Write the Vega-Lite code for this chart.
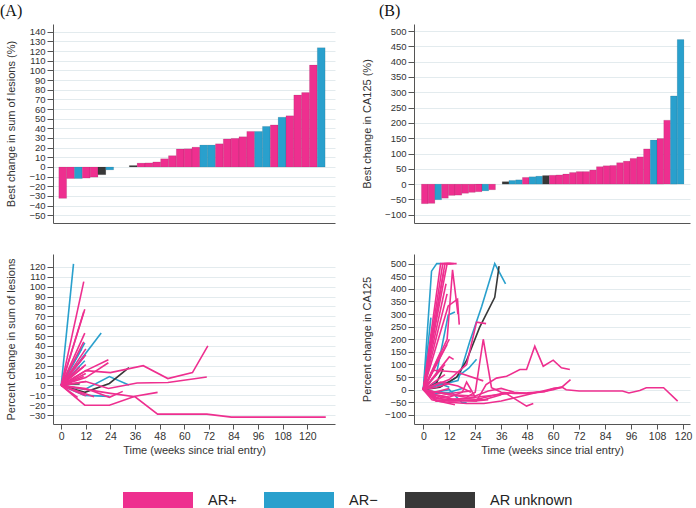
{
  "$schema": "https://vega.github.io/schema/vega-lite/v6.json",
  "padding": {"left": 0, "top": 3, "right": 2, "bottom": 0},
  "config": {
    "font": "Liberation Sans",
    "view": {"stroke": null},
    "axis": {"domainColor": "#555555", "tickColor": "#555555", "labelColor": "#333333", "titleColor": "#333333", "titleFontWeight": "normal", "labelFont": "Liberation Sans", "titleFont": "Liberation Sans", "gridColor": "#e3ebee", "gridWidth": 1, "domainWidth": 1, "tickWidth": 1}
  },
  "resolve": {"scale": {"color": "independent"}, "legend": {"color": "independent"}},
  "datasets": {
    "barsA": [
      {"rank": 1, "ar": "AR+", "v": -32.5}, {"rank": 2, "ar": "AR+", "v": -12}, {"rank": 3, "ar": "AR−", "v": -12},
      {"rank": 4, "ar": "AR+", "v": -11.5}, {"rank": 5, "ar": "AR+", "v": -10.5}, {"rank": 6, "ar": "AR unknown", "v": -8},
      {"rank": 7, "ar": "AR−", "v": -3}, {"rank": 10, "ar": "AR unknown", "v": 1.5}, {"rank": 11, "ar": "AR+", "v": 4},
      {"rank": 12, "ar": "AR+", "v": 4.2}, {"rank": 13, "ar": "AR+", "v": 5.2}, {"rank": 14, "ar": "AR+", "v": 8.5},
      {"rank": 15, "ar": "AR+", "v": 11.7}, {"rank": 16, "ar": "AR+", "v": 18.6}, {"rank": 17, "ar": "AR+", "v": 18.8},
      {"rank": 18, "ar": "AR+", "v": 20.5}, {"rank": 19, "ar": "AR−", "v": 22.7}, {"rank": 20, "ar": "AR−", "v": 22.7},
      {"rank": 21, "ar": "AR+", "v": 24}, {"rank": 22, "ar": "AR+", "v": 29}, {"rank": 23, "ar": "AR+", "v": 29.6},
      {"rank": 24, "ar": "AR+", "v": 31.3}, {"rank": 25, "ar": "AR+", "v": 36.8}, {"rank": 26, "ar": "AR−", "v": 36.8},
      {"rank": 27, "ar": "AR−", "v": 42}, {"rank": 28, "ar": "AR+", "v": 43.5}, {"rank": 29, "ar": "AR−", "v": 51.5},
      {"rank": 30, "ar": "AR+", "v": 53}, {"rank": 31, "ar": "AR+", "v": 74.5}, {"rank": 32, "ar": "AR+", "v": 77},
      {"rank": 33, "ar": "AR+", "v": 105.5}, {"rank": 34, "ar": "AR−", "v": 123.5}
    ],
    "barsB": [
      {"rank": 1, "ar": "AR+", "v": -64}, {"rank": 2, "ar": "AR+", "v": -63}, {"rank": 3, "ar": "AR−", "v": -51},
      {"rank": 4, "ar": "AR+", "v": -46}, {"rank": 5, "ar": "AR+", "v": -37}, {"rank": 6, "ar": "AR+", "v": -36},
      {"rank": 7, "ar": "AR+", "v": -30}, {"rank": 8, "ar": "AR+", "v": -27}, {"rank": 9, "ar": "AR+", "v": -25},
      {"rank": 10, "ar": "AR−", "v": -22}, {"rank": 11, "ar": "AR+", "v": -18.5}, {"rank": 13, "ar": "AR unknown", "v": 8},
      {"rank": 14, "ar": "AR−", "v": 12}, {"rank": 15, "ar": "AR−", "v": 14}, {"rank": 16, "ar": "AR+", "v": 22},
      {"rank": 17, "ar": "AR−", "v": 24}, {"rank": 18, "ar": "AR−", "v": 26}, {"rank": 19, "ar": "AR unknown", "v": 28},
      {"rank": 20, "ar": "AR+", "v": 29}, {"rank": 21, "ar": "AR+", "v": 30}, {"rank": 22, "ar": "AR+", "v": 33},
      {"rank": 23, "ar": "AR+", "v": 38}, {"rank": 24, "ar": "AR+", "v": 41}, {"rank": 25, "ar": "AR+", "v": 41},
      {"rank": 26, "ar": "AR+", "v": 46}, {"rank": 27, "ar": "AR+", "v": 57}, {"rank": 28, "ar": "AR+", "v": 60},
      {"rank": 29, "ar": "AR+", "v": 61}, {"rank": 30, "ar": "AR+", "v": 70}, {"rank": 31, "ar": "AR+", "v": 75},
      {"rank": 32, "ar": "AR+", "v": 84}, {"rank": 33, "ar": "AR+", "v": 89}, {"rank": 34, "ar": "AR+", "v": 115},
      {"rank": 35, "ar": "AR−", "v": 144}, {"rank": 36, "ar": "AR+", "v": 149}, {"rank": 37, "ar": "AR+", "v": 209},
      {"rank": 38, "ar": "AR−", "v": 288}, {"rank": 39, "ar": "AR−", "v": 472}
    ],
    "linesA": [
      {"id": "b1", "ar": "AR−", "w": 0, "v": 0}, {"id": "b1", "ar": "AR−", "w": 6, "v": 123},
      {"id": "b2", "ar": "AR−", "w": 0, "v": 0}, {"id": "b2", "ar": "AR−", "w": 19.5, "v": 53},
      {"id": "b3", "ar": "AR−", "w": 0, "v": 0}, {"id": "b3", "ar": "AR−", "w": 11.5, "v": 43},
      {"id": "b4", "ar": "AR−", "w": 0, "v": 0}, {"id": "b4", "ar": "AR−", "w": 10, "v": 37},
      {"id": "b5", "ar": "AR−", "w": 0, "v": 0}, {"id": "b5", "ar": "AR−", "w": 11.5, "v": 25},
      {"id": "b6", "ar": "AR−", "w": 0, "v": 0}, {"id": "b6", "ar": "AR−", "w": 8, "v": 22},
      {"id": "b7", "ar": "AR−", "w": 0, "v": 0}, {"id": "b7", "ar": "AR−", "w": 11.5, "v": -10}, {"id": "b7", "ar": "AR−", "w": 23.5, "v": -11},
      {"id": "b8", "ar": "AR−", "w": 0, "v": 0}, {"id": "b8", "ar": "AR−", "w": 11.5, "v": -4}, {"id": "b8", "ar": "AR−", "w": 23.5, "v": 9}, {"id": "b8", "ar": "AR−", "w": 33, "v": 0.5},
      {"id": "d1", "ar": "AR unknown", "w": 0, "v": 0}, {"id": "d1", "ar": "AR unknown", "w": 5.5, "v": 1.5}, {"id": "d1", "ar": "AR unknown", "w": 9, "v": 1.5},
      {"id": "d2", "ar": "AR unknown", "w": 0, "v": 0}, {"id": "d2", "ar": "AR unknown", "w": 11.5, "v": -7}, {"id": "d2", "ar": "AR unknown", "w": 23.5, "v": 2}, {"id": "d2", "ar": "AR unknown", "w": 33, "v": 18},
      {"id": "p1", "ar": "AR+", "w": 0, "v": 0}, {"id": "p1", "ar": "AR+", "w": 12, "v": -4}, {"id": "p1", "ar": "AR+", "w": 24, "v": -8}, {"id": "p1", "ar": "AR+", "w": 36, "v": -11.5}, {"id": "p1", "ar": "AR+", "w": 47, "v": -29}, {"id": "p1", "ar": "AR+", "w": 71, "v": -29}, {"id": "p1", "ar": "AR+", "w": 83, "v": -32}, {"id": "p1", "ar": "AR+", "w": 129, "v": -32},
      {"id": "p2", "ar": "AR+", "w": 0, "v": 0}, {"id": "p2", "ar": "AR+", "w": 11.5, "v": -20}, {"id": "p2", "ar": "AR+", "w": 23.5, "v": -20}, {"id": "p2", "ar": "AR+", "w": 36, "v": -11}, {"id": "p2", "ar": "AR+", "w": 47, "v": -7},
      {"id": "p3", "ar": "AR+", "w": 0, "v": 0}, {"id": "p3", "ar": "AR+", "w": 16, "v": -11.5},
      {"id": "p4", "ar": "AR+", "w": 0, "v": 0}, {"id": "p4", "ar": "AR+", "w": 12, "v": -3}, {"id": "p4", "ar": "AR+", "w": 23.5, "v": -12}, {"id": "p4", "ar": "AR+", "w": 30, "v": -6},
      {"id": "p5", "ar": "AR+", "w": 0, "v": 0}, {"id": "p5", "ar": "AR+", "w": 12, "v": 15}, {"id": "p5", "ar": "AR+", "w": 24, "v": 13}, {"id": "p5", "ar": "AR+", "w": 40, "v": 20}, {"id": "p5", "ar": "AR+", "w": 52, "v": 7}, {"id": "p5", "ar": "AR+", "w": 64, "v": 13}, {"id": "p5", "ar": "AR+", "w": 71.5, "v": 40},
      {"id": "p6", "ar": "AR+", "w": 0, "v": 0}, {"id": "p6", "ar": "AR+", "w": 12, "v": 4}, {"id": "p6", "ar": "AR+", "w": 23, "v": -3}, {"id": "p6", "ar": "AR+", "w": 37, "v": 2.5}, {"id": "p6", "ar": "AR+", "w": 52, "v": 3}, {"id": "p6", "ar": "AR+", "w": 71, "v": 8.5},
      {"id": "p7", "ar": "AR+", "w": 0, "v": 0}, {"id": "p7", "ar": "AR+", "w": 12, "v": 15}, {"id": "p7", "ar": "AR+", "w": 23, "v": 26},
      {"id": "p8", "ar": "AR+", "w": 0, "v": 0}, {"id": "p8", "ar": "AR+", "w": 12, "v": 8}, {"id": "p8", "ar": "AR+", "w": 23, "v": 23},
      {"id": "p9", "ar": "AR+", "w": 0, "v": 0}, {"id": "p9", "ar": "AR+", "w": 12, "v": 4},
      {"id": "p10", "ar": "AR+", "w": 0, "v": 0}, {"id": "p10", "ar": "AR+", "w": 6, "v": 5},
      {"id": "p11", "ar": "AR+", "w": 0, "v": 0}, {"id": "p11", "ar": "AR+", "w": 11, "v": 9},
      {"id": "p12", "ar": "AR+", "w": 0, "v": 0}, {"id": "p12", "ar": "AR+", "w": 12, "v": 12},
      {"id": "p13", "ar": "AR+", "w": 0, "v": 0}, {"id": "p13", "ar": "AR+", "w": 9, "v": 18.6},
      {"id": "p14", "ar": "AR+", "w": 0, "v": 0}, {"id": "p14", "ar": "AR+", "w": 11, "v": 19},
      {"id": "p15", "ar": "AR+", "w": 0, "v": 0}, {"id": "p15", "ar": "AR+", "w": 12, "v": 21},
      {"id": "p16", "ar": "AR+", "w": 0, "v": 0}, {"id": "p16", "ar": "AR+", "w": 11, "v": 29},
      {"id": "p17", "ar": "AR+", "w": 0, "v": 0}, {"id": "p17", "ar": "AR+", "w": 12, "v": 31},
      {"id": "p18", "ar": "AR+", "w": 0, "v": 0}, {"id": "p18", "ar": "AR+", "w": 12, "v": 37},
      {"id": "p19", "ar": "AR+", "w": 0, "v": 0}, {"id": "p19", "ar": "AR+", "w": 11, "v": 44},
      {"id": "p20", "ar": "AR+", "w": 0, "v": 0}, {"id": "p20", "ar": "AR+", "w": 11.5, "v": 53},
      {"id": "p21", "ar": "AR+", "w": 0, "v": 0}, {"id": "p21", "ar": "AR+", "w": 11, "v": 74.5},
      {"id": "p22", "ar": "AR+", "w": 0, "v": 0}, {"id": "p22", "ar": "AR+", "w": 11.5, "v": 77},
      {"id": "p23", "ar": "AR+", "w": 0, "v": 0}, {"id": "p23", "ar": "AR+", "w": 11, "v": 105},
      {"id": "p24", "ar": "AR+", "w": 0, "v": 0}, {"id": "p24", "ar": "AR+", "w": 12, "v": -10.5},
      {"id": "p25", "ar": "AR+", "w": 0, "v": 0}, {"id": "p25", "ar": "AR+", "w": 8, "v": -12}
    ],
    "linesB": [
      {"id": "b1", "ar": "AR−", "w": 0, "v": 0}, {"id": "b1", "ar": "AR−", "w": 3.8, "v": 470}, {"id": "b1", "ar": "AR−", "w": 6.2, "v": 500}, {"id": "b1", "ar": "AR−", "w": 8.5, "v": 500},
      {"id": "b2", "ar": "AR−", "w": 0, "v": 0}, {"id": "b2", "ar": "AR−", "w": 3.5, "v": 286},
      {"id": "b3", "ar": "AR−", "w": 0, "v": 0}, {"id": "b3", "ar": "AR−", "w": 6, "v": 60}, {"id": "b3", "ar": "AR−", "w": 11.5, "v": 296}, {"id": "b3", "ar": "AR−", "w": 14.6, "v": 308},
      {"id": "b4", "ar": "AR−", "w": 0, "v": 0}, {"id": "b4", "ar": "AR−", "w": 8, "v": 20}, {"id": "b4", "ar": "AR−", "w": 16, "v": 36}, {"id": "b4", "ar": "AR−", "w": 21.5, "v": 192}, {"id": "b4", "ar": "AR−", "w": 27, "v": 331}, {"id": "b4", "ar": "AR−", "w": 33, "v": 500}, {"id": "b4", "ar": "AR−", "w": 38, "v": 420},
      {"id": "b5", "ar": "AR−", "w": 0, "v": 0}, {"id": "b5", "ar": "AR−", "w": 6, "v": 20}, {"id": "b5", "ar": "AR−", "w": 12, "v": 30}, {"id": "b5", "ar": "AR−", "w": 17, "v": 60}, {"id": "b5", "ar": "AR−", "w": 21, "v": 85}, {"id": "b5", "ar": "AR−", "w": 24.6, "v": 121},
      {"id": "b6", "ar": "AR−", "w": 0, "v": 0}, {"id": "b6", "ar": "AR−", "w": 6, "v": -10}, {"id": "b6", "ar": "AR−", "w": 12, "v": 0}, {"id": "b6", "ar": "AR−", "w": 17.7, "v": -50}, {"id": "b6", "ar": "AR−", "w": 20, "v": -52},
      {"id": "b7", "ar": "AR−", "w": 0, "v": 0}, {"id": "b7", "ar": "AR−", "w": 6, "v": -15}, {"id": "b7", "ar": "AR−", "w": 12, "v": -10}, {"id": "b7", "ar": "AR−", "w": 18, "v": 5},
      {"id": "b8", "ar": "AR−", "w": 0, "v": 0}, {"id": "b8", "ar": "AR−", "w": 6, "v": 30}, {"id": "b8", "ar": "AR−", "w": 12, "v": 10},
      {"id": "d1", "ar": "AR unknown", "w": 0, "v": 0}, {"id": "d1", "ar": "AR unknown", "w": 6, "v": 25}, {"id": "d1", "ar": "AR unknown", "w": 9.2, "v": 83},
      {"id": "d2", "ar": "AR unknown", "w": 0, "v": 0}, {"id": "d2", "ar": "AR unknown", "w": 7.7, "v": 10}, {"id": "d2", "ar": "AR unknown", "w": 15.4, "v": 50}, {"id": "d2", "ar": "AR unknown", "w": 20, "v": 116}, {"id": "d2", "ar": "AR unknown", "w": 26, "v": 247}, {"id": "d2", "ar": "AR unknown", "w": 33, "v": 366}, {"id": "d2", "ar": "AR unknown", "w": 35, "v": 490},
      {"id": "p1", "ar": "AR+", "w": 0, "v": 0}, {"id": "p1", "ar": "AR+", "w": 8, "v": 500}, {"id": "p1", "ar": "AR+", "w": 14, "v": 500},
      {"id": "p2", "ar": "AR+", "w": 0, "v": 0}, {"id": "p2", "ar": "AR+", "w": 9, "v": 500}, {"id": "p2", "ar": "AR+", "w": 15.4, "v": 500},
      {"id": "p3", "ar": "AR+", "w": 0, "v": 0}, {"id": "p3", "ar": "AR+", "w": 10, "v": 500}, {"id": "p3", "ar": "AR+", "w": 13, "v": 500},
      {"id": "p4", "ar": "AR+", "w": 0, "v": 0}, {"id": "p4", "ar": "AR+", "w": 11, "v": 500}, {"id": "p4", "ar": "AR+", "w": 12.5, "v": 500},
      {"id": "p5", "ar": "AR+", "w": 0, "v": 0}, {"id": "p5", "ar": "AR+", "w": 9.5, "v": 470},
      {"id": "p6", "ar": "AR+", "w": 0, "v": 0}, {"id": "p6", "ar": "AR+", "w": 10.5, "v": 420},
      {"id": "p7", "ar": "AR+", "w": 0, "v": 0}, {"id": "p7", "ar": "AR+", "w": 11, "v": 380},
      {"id": "p8", "ar": "AR+", "w": 0, "v": 0}, {"id": "p8", "ar": "AR+", "w": 11.5, "v": 332}, {"id": "p8", "ar": "AR+", "w": 15.8, "v": 359}, {"id": "p8", "ar": "AR+", "w": 16.6, "v": 258},
      {"id": "p9", "ar": "AR+", "w": 0, "v": 0}, {"id": "p9", "ar": "AR+", "w": 11, "v": 200}, {"id": "p9", "ar": "AR+", "w": 13.5, "v": 475}, {"id": "p9", "ar": "AR+", "w": 16, "v": 300},
      {"id": "p10", "ar": "AR+", "w": 0, "v": 0}, {"id": "p10", "ar": "AR+", "w": 12, "v": 200},
      {"id": "p11", "ar": "AR+", "w": 0, "v": 0}, {"id": "p11", "ar": "AR+", "w": 11, "v": 180},
      {"id": "p12", "ar": "AR+", "w": 0, "v": 0}, {"id": "p12", "ar": "AR+", "w": 12, "v": 130}, {"id": "p12", "ar": "AR+", "w": 14, "v": 120},
      {"id": "p13", "ar": "AR+", "w": 0, "v": 0}, {"id": "p13", "ar": "AR+", "w": 8, "v": 150},
      {"id": "p14", "ar": "AR+", "w": 0, "v": 0}, {"id": "p14", "ar": "AR+", "w": 10, "v": 100},
      {"id": "p15", "ar": "AR+", "w": 0, "v": 0}, {"id": "p15", "ar": "AR+", "w": 4.6, "v": 77}, {"id": "p15", "ar": "AR+", "w": 15.4, "v": 70}, {"id": "p15", "ar": "AR+", "w": 27.7, "v": 35},
      {"id": "p16", "ar": "AR+", "w": 0, "v": 0}, {"id": "p16", "ar": "AR+", "w": 12, "v": 40}, {"id": "p16", "ar": "AR+", "w": 20, "v": 100}, {"id": "p16", "ar": "AR+", "w": 24.6, "v": 268}, {"id": "p16", "ar": "AR+", "w": 29, "v": 262},
      {"id": "p17", "ar": "AR+", "w": 0, "v": 0}, {"id": "p17", "ar": "AR+", "w": 12, "v": -20}, {"id": "p17", "ar": "AR+", "w": 20, "v": -30}, {"id": "p17", "ar": "AR+", "w": 24, "v": -10}, {"id": "p17", "ar": "AR+", "w": 27.7, "v": 200}, {"id": "p17", "ar": "AR+", "w": 31.5, "v": 8}, {"id": "p17", "ar": "AR+", "w": 36, "v": -10}, {"id": "p17", "ar": "AR+", "w": 42, "v": -15}, {"id": "p17", "ar": "AR+", "w": 48, "v": -15}, {"id": "p17", "ar": "AR+", "w": 54, "v": -8},
      {"id": "p18", "ar": "AR+", "w": 0, "v": 0}, {"id": "p18", "ar": "AR+", "w": 6, "v": -40}, {"id": "p18", "ar": "AR+", "w": 12, "v": -45}, {"id": "p18", "ar": "AR+", "w": 24.6, "v": -45}, {"id": "p18", "ar": "AR+", "w": 29, "v": 20}, {"id": "p18", "ar": "AR+", "w": 33.8, "v": 46}, {"id": "p18", "ar": "AR+", "w": 38.5, "v": 53}, {"id": "p18", "ar": "AR+", "w": 44.6, "v": 80}, {"id": "p18", "ar": "AR+", "w": 47.7, "v": 80}, {"id": "p18", "ar": "AR+", "w": 51.5, "v": 172}, {"id": "p18", "ar": "AR+", "w": 55.4, "v": 93}, {"id": "p18", "ar": "AR+", "w": 60, "v": 117}, {"id": "p18", "ar": "AR+", "w": 63.8, "v": 87}, {"id": "p18", "ar": "AR+", "w": 67.7, "v": 80},
      {"id": "p19", "ar": "AR+", "w": 0, "v": 0}, {"id": "p19", "ar": "AR+", "w": 6, "v": -30}, {"id": "p19", "ar": "AR+", "w": 12, "v": -45}, {"id": "p19", "ar": "AR+", "w": 24, "v": -40}, {"id": "p19", "ar": "AR+", "w": 36, "v": -15}, {"id": "p19", "ar": "AR+", "w": 48, "v": -12}, {"id": "p19", "ar": "AR+", "w": 56, "v": -8}, {"id": "p19", "ar": "AR+", "w": 60, "v": 5}, {"id": "p19", "ar": "AR+", "w": 64, "v": 10}, {"id": "p19", "ar": "AR+", "w": 66, "v": 0}, {"id": "p19", "ar": "AR+", "w": 72, "v": -5}, {"id": "p19", "ar": "AR+", "w": 92, "v": -5}, {"id": "p19", "ar": "AR+", "w": 95, "v": -13}, {"id": "p19", "ar": "AR+", "w": 100, "v": -3}, {"id": "p19", "ar": "AR+", "w": 103, "v": 8}, {"id": "p19", "ar": "AR+", "w": 111, "v": 8}, {"id": "p19", "ar": "AR+", "w": 117.5, "v": -45},
      {"id": "p20", "ar": "AR+", "w": 0, "v": 0}, {"id": "p20", "ar": "AR+", "w": 6, "v": -35}, {"id": "p20", "ar": "AR+", "w": 12, "v": -40}, {"id": "p20", "ar": "AR+", "w": 24, "v": -30}, {"id": "p20", "ar": "AR+", "w": 38.5, "v": -16}, {"id": "p20", "ar": "AR+", "w": 47.7, "v": -65}, {"id": "p20", "ar": "AR+", "w": 50.8, "v": -55},
      {"id": "p21", "ar": "AR+", "w": 0, "v": 0}, {"id": "p21", "ar": "AR+", "w": 6, "v": -45}, {"id": "p21", "ar": "AR+", "w": 12, "v": -50}, {"id": "p21", "ar": "AR+", "w": 20, "v": -55}, {"id": "p21", "ar": "AR+", "w": 28, "v": -55}, {"id": "p21", "ar": "AR+", "w": 36, "v": -45}, {"id": "p21", "ar": "AR+", "w": 48, "v": -20}, {"id": "p21", "ar": "AR+", "w": 60, "v": 5}, {"id": "p21", "ar": "AR+", "w": 64, "v": 10}, {"id": "p21", "ar": "AR+", "w": 68, "v": 40},
      {"id": "p22", "ar": "AR+", "w": 0, "v": 0}, {"id": "p22", "ar": "AR+", "w": 4, "v": -40}, {"id": "p22", "ar": "AR+", "w": 12, "v": -55}, {"id": "p22", "ar": "AR+", "w": 14.6, "v": -60},
      {"id": "p23", "ar": "AR+", "w": 0, "v": 0}, {"id": "p23", "ar": "AR+", "w": 6, "v": -45}, {"id": "p23", "ar": "AR+", "w": 12, "v": -40}, {"id": "p23", "ar": "AR+", "w": 20, "v": -35}, {"id": "p23", "ar": "AR+", "w": 24, "v": -38}, {"id": "p23", "ar": "AR+", "w": 28, "v": -40}, {"id": "p23", "ar": "AR+", "w": 32, "v": -30}, {"id": "p23", "ar": "AR+", "w": 36, "v": -20},
      {"id": "p24", "ar": "AR+", "w": 0, "v": 0}, {"id": "p24", "ar": "AR+", "w": 6, "v": -20}, {"id": "p24", "ar": "AR+", "w": 12, "v": -30}, {"id": "p24", "ar": "AR+", "w": 18, "v": -10}, {"id": "p24", "ar": "AR+", "w": 20, "v": 30}, {"id": "p24", "ar": "AR+", "w": 24, "v": -30},
      {"id": "p25", "ar": "AR+", "w": 0, "v": 0}, {"id": "p25", "ar": "AR+", "w": 8, "v": -30}, {"id": "p25", "ar": "AR+", "w": 16, "v": -40}, {"id": "p25", "ar": "AR+", "w": 24, "v": -45}, {"id": "p25", "ar": "AR+", "w": 30, "v": -40},
      {"id": "p26", "ar": "AR+", "w": 0, "v": 0}, {"id": "p26", "ar": "AR+", "w": 6, "v": -10}, {"id": "p26", "ar": "AR+", "w": 12, "v": -15}, {"id": "p26", "ar": "AR+", "w": 22, "v": -5},
      {"id": "p27", "ar": "AR+", "w": 0, "v": 0}, {"id": "p27", "ar": "AR+", "w": 4, "v": -20}, {"id": "p27", "ar": "AR+", "w": 12, "v": -30},
      {"id": "p28", "ar": "AR+", "w": 0, "v": 0}, {"id": "p28", "ar": "AR+", "w": 8, "v": 30}, {"id": "p28", "ar": "AR+", "w": 16, "v": 15}, {"id": "p28", "ar": "AR+", "w": 22, "v": -10},
      {"id": "p29", "ar": "AR+", "w": 0, "v": 0}, {"id": "p29", "ar": "AR+", "w": 6, "v": 10}, {"id": "p29", "ar": "AR+", "w": 12, "v": 25},
      {"id": "p30", "ar": "AR+", "w": 0, "v": 0}, {"id": "p30", "ar": "AR+", "w": 5, "v": -10}, {"id": "p30", "ar": "AR+", "w": 12, "v": 5},
      {"id": "p31", "ar": "AR+", "w": 0, "v": 0}, {"id": "p31", "ar": "AR+", "w": 10, "v": 60},
      {"id": "p32", "ar": "AR+", "w": 0, "v": 0}, {"id": "p32", "ar": "AR+", "w": 9, "v": 90},
      {"id": "p33", "ar": "AR+", "w": 0, "v": 0}, {"id": "p33", "ar": "AR+", "w": 12, "v": -20}, {"id": "p33", "ar": "AR+", "w": 24, "v": -25}, {"id": "p33", "ar": "AR+", "w": 30, "v": -5}, {"id": "p33", "ar": "AR+", "w": 36, "v": 5}, {"id": "p33", "ar": "AR+", "w": 42, "v": -10}, {"id": "p33", "ar": "AR+", "w": 48, "v": -15}, {"id": "p33", "ar": "AR+", "w": 54, "v": -10}, {"id": "p33", "ar": "AR+", "w": 60, "v": 0}, {"id": "p33", "ar": "AR+", "w": 64, "v": 10}
    ]
  },
  "columns": 2,
  "spacing": {"row": 31, "column": 79},
  "bounds": "flush",
  "concat": [
    {
      "width": 282, "height": 199,
      "title": {"text": "(A)", "anchor": "start", "frame": "group", "dx": -53, "dy": 17, "offset": 9, "font": "Liberation Serif", "fontSize": 16, "fontWeight": "normal", "baseline": "alphabetic", "color": "#111111"},
      "data": {"name": "barsA"},
      "mark": {"type": "bar", "stroke": "#000000", "strokeOpacity": 0.13, "strokeWidth": 0.7},
      "encoding": {
        "x": {"field": "rank", "type": "ordinal", "scale": {"domain": [1,2,3,4,5,6,7,8,9,10,11,12,13,14,15,16,17,18,19,20,21,22,23,24,25,26,27,28,29,30,31,32,33,34], "paddingInner": 0, "paddingOuter": 2.15, "align": 0.37}, "axis": {"title": null, "labels": false, "ticks": false, "domain": true, "grid": false}},
        "y": {"field": "v", "type": "quantitative", "scale": {"domain": [-58, 148], "nice": false}, "axis": {"values": [-50,-40,-30,-20,-10,0,10,20,30,40,50,60,70,80,90,100,110,120,130,140], "title": "Best change in sum of lesions (%)", "tickSize": 6, "labelPadding": 2, "titlePadding": 12, "labelFontSize": 9.5, "titleFontSize": 11, "grid": true}},
        "y2": {"datum": 0},
        "color": {"field": "ar", "type": "nominal", "scale": {"domain": ["AR+", "AR−", "AR unknown"], "range": ["#EE2F8F", "#29A0CD", "#383838"]},
          "legend": {"orient": "none", "legendX": 70, "legendY": 442, "direction": "horizontal", "title": null, "symbolType": "M-1,-0.257H1V0.257H-1Z", "symbolSize": 4900, "labelFontSize": 14.5, "labelOffset": 15, "columnPadding": 27, "labelColor": "#222222", "padding": 0, "symbolStrokeWidth": 0, "symbolOpacity": 1}}
      }
    },
    {
      "width": 276, "height": 199,
      "title": {"text": "(B)", "anchor": "start", "frame": "group", "dx": -35, "dy": 17, "offset": 9, "font": "Liberation Serif", "fontSize": 16, "fontWeight": "normal", "baseline": "alphabetic", "color": "#111111"},
      "data": {"name": "barsB"},
      "mark": {"type": "bar", "stroke": "#000000", "strokeOpacity": 0.13, "strokeWidth": 0.7},
      "encoding": {
        "x": {"field": "rank", "type": "ordinal", "scale": {"domain": [1,2,3,4,5,6,7,8,9,10,11,12,13,14,15,16,17,18,19,20,21,22,23,24,25,26,27,28,29,30,31,32,33,34,35,36,37,38,39], "paddingInner": 0, "paddingOuter": 1.58, "align": 0.55}, "axis": {"title": null, "labels": false, "ticks": false, "domain": true, "grid": false}},
        "y": {"field": "v", "type": "quantitative", "scale": {"domain": [-127, 523], "nice": false}, "axis": {"values": [-100,-50,0,50,100,150,200,250,300,350,400,450,500], "title": "Best change in CA125 (%)", "tickSize": 6, "labelPadding": 2, "titlePadding": 12, "labelFontSize": 9.5, "titleFontSize": 11, "grid": true}},
        "y2": {"datum": 0},
        "color": {"field": "ar", "type": "nominal", "scale": {"domain": ["AR+", "AR−", "AR unknown"], "range": ["#EE2F8F", "#29A0CD", "#383838"]}, "legend": null}
      }
    },
    {
      "width": 282, "height": 170,
      "data": {"name": "linesA"},
      "mark": {"type": "line", "strokeWidth": 1.6},
      "encoding": {
        "x": {"field": "w", "type": "quantitative", "scale": {"domain": [-4, 133.5], "nice": false}, "axis": {"values": [0,12,24,36,48,60,72,84,96,108,120], "title": "Time (weeks since trial entry)", "tickSize": 5, "labelPadding": 2, "titlePadding": 3, "labelFontSize": 10.5, "titleFontSize": 11, "grid": false}},
        "y": {"field": "v", "type": "quantitative", "scale": {"domain": [-39, 133], "nice": false}, "axis": {"values": [-30,-20,-10,0,10,20,30,40,50,60,70,80,90,100,110,120], "title": "Percent change in sum of lesions", "tickSize": 6, "labelPadding": 2, "titlePadding": 12, "labelFontSize": 9.5, "titleFontSize": 11, "grid": true}},
        "detail": {"field": "id", "type": "nominal"},
        "color": {"field": "ar", "type": "nominal", "scale": {"domain": ["AR+", "AR−", "AR unknown"], "range": ["#EE2F8F", "#29A0CD", "#383838"]}, "legend": null}
      }
    },
    {
      "width": 276, "height": 170,
      "data": {"name": "linesB"},
      "mark": {"type": "line", "strokeWidth": 1.6},
      "encoding": {
        "x": {"field": "w", "type": "quantitative", "scale": {"domain": [-4.3, 123.2], "nice": false}, "axis": {"values": [0,12,24,36,48,60,72,84,96,108,120], "title": "Time (weeks since trial entry)", "tickSize": 5, "labelPadding": 2, "titlePadding": 3, "labelFontSize": 10.5, "titleFontSize": 11, "grid": false}},
        "y": {"field": "v", "type": "quantitative", "scale": {"domain": [-136, 538], "nice": false}, "axis": {"values": [-100,-50,0,50,100,150,200,250,300,350,400,450,500], "title": "Percent change in CA125", "tickSize": 6, "labelPadding": 2, "titlePadding": 12, "labelFontSize": 9.5, "titleFontSize": 11, "grid": true}},
        "detail": {"field": "id", "type": "nominal"},
        "color": {"field": "ar", "type": "nominal", "scale": {"domain": ["AR+", "AR−", "AR unknown"], "range": ["#EE2F8F", "#29A0CD", "#383838"]}, "legend": null}
      }
    }
  ]
}
